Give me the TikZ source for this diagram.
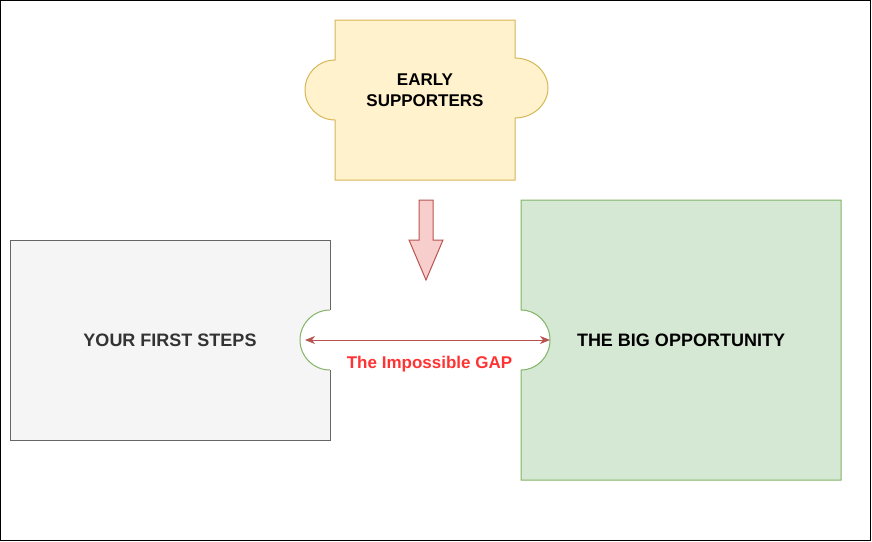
\documentclass[tikz,border=0pt]{standalone}
\usepackage{fontspec}
\setmainfont{Liberation Sans}
\usetikzlibrary{arrows.meta}
\definecolor{yfill}{HTML}{FFF2CC}
\definecolor{ydraw}{HTML}{D6B656}
\definecolor{gfill}{HTML}{F5F5F5}
\definecolor{gdraw}{HTML}{666666}
\definecolor{gtext}{HTML}{333333}
\definecolor{nfill}{HTML}{D5E8D4}
\definecolor{ndraw}{HTML}{82B366}
\definecolor{rfill}{HTML}{F8CECC}
\definecolor{rdraw}{HTML}{B85450}
\definecolor{rtext}{HTML}{FF3333}
\tikzset{
  lbl/.style={font=\fontsize{17}{21}\selectfont\bfseries, align=center, inner sep=0pt},
  biglbl/.style={font=\fontsize{18}{22}\selectfont\bfseries, align=center, inner sep=0pt},
  gapline/.style={draw=rdraw, line width=1pt, {Stealth[length=10pt,width=8pt,inset=3pt]}-{Stealth[length=10pt,width=8pt,inset=3pt]}},
}
\begin{document}
\begin{tikzpicture}[x=1pt,y=-1pt,line join=miter]
\useasboundingbox (0,0) rectangle (872,541);
\draw[black, line width=1pt] (0.5,0.5) rectangle (870.5,540.5);
% top puzzle piece
\draw[fill=yfill, draw=ydraw, line width=1pt]
  (335,20) -- (515,20) -- (515,58)
  .. controls (532.7,58) and (548,71.4) .. (548,88)
  .. controls (548,104.6) and (532.7,118) .. (515,118)
  -- (515,180) -- (335,180) -- (335,120)
  .. controls (318.4,120) and (305,106.6) .. (305,90)
  .. controls (305,73.4) and (318.4,60) .. (335,60) -- cycle;
\node[lbl] (early) at (425,90) {EARLY\\SUPPORTERS};
% down block arrow
\draw[fill=rfill, draw=rdraw, line width=1pt]
  (419,200) -- (433,200) -- (433,240) -- (443,240) -- (426,280) -- (409,240) -- (419,240) -- cycle;
% left box
\fill[gfill] (10,240) -- (330,240) -- (330,310)
  .. controls (313.4,310) and (300,323.4) .. (300,340)
  .. controls (300,356.6) and (313.4,370) .. (330,370)
  -- (330,440) -- (10,440) -- cycle;
\draw[gdraw, line width=1pt] (330,370) -- (330,440) -- (10,440) -- (10,240) -- (330,240) -- (330,310);
\draw[ndraw, line width=1pt] (330,310)
  .. controls (313.4,310) and (300,323.4) .. (300,340)
  .. controls (300,356.6) and (313.4,370) .. (330,370);
\node[biglbl, text=gtext] (first) at (170,340) {YOUR FIRST STEPS};
% right box
\draw[fill=nfill, draw=ndraw, line width=1pt]
  (521,200) -- (841,200) -- (841,480) -- (521,480) -- (521,370)
  .. controls (537,370) and (550,356.6) .. (550,340)
  .. controls (550,323.4) and (537,310) .. (521,310) -- cycle;
\node[biglbl] (big) at (681,340) {THE BIG OPPORTUNITY};
% gap connector
\coordinate (gapL) at (305,340);
\coordinate (gapR) at (550,340);
\draw[gapline] (gapL) -- (gapR);
\node[lbl, text=rtext] (gap) at (429.5,364) {The Impossible GAP};
\end{tikzpicture}
\end{document}
